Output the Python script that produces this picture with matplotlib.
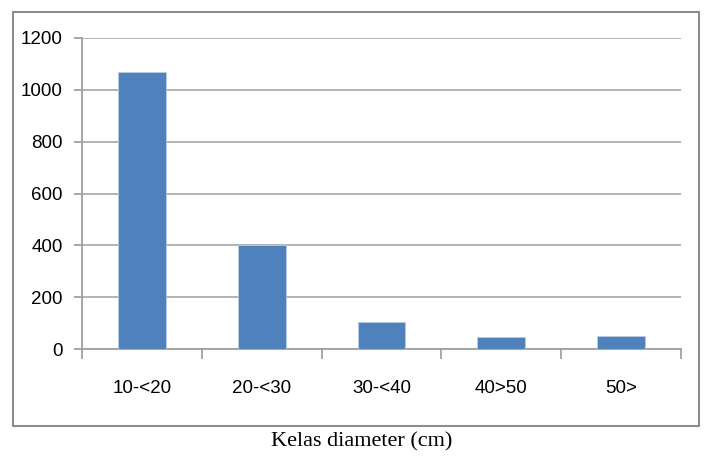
import matplotlib
matplotlib.use("Agg")
import matplotlib.pyplot as plt
from matplotlib.patches import Rectangle
import numpy as np

# data
kelas = ['10-<20', '20-<30', '30-<40', '40>50', '50>']
jumlah = [1068, 400, 103, 46, 51]
yticks = [0, 200, 400, 600, 800, 1000, 1200]

plt.rcParams['font.family'] = ['Liberation Sans', 'DejaVu Sans']

fig = plt.figure(figsize=(7.05, 4.57), dpi=100)
ax = fig.add_axes([82 / 705, 1 - 349 / 457, (681 - 82) / 705, (349 - 38) / 457])

x = np.arange(len(kelas))
ax.bar(x, jumlah, width=0.4, color='#4F81BD', edgecolor='#b9cde5', linewidth=0.6, zorder=3)

ax.set_xlim(-0.5, len(kelas) - 0.5)
ax.set_ylim(0, 1200)
ax.set_yticks(yticks)
ax.set_yticklabels([str(v) for v in yticks], fontsize=13.5)
ax.yaxis.grid(True, color='#adadad', linewidth=1.3, zorder=0)

ax.set_xticks(x)
ax.set_xticklabels(kelas, fontsize=13.5)
ax.tick_params(axis='x', length=0, pad=22)
ax.set_xticks(np.arange(len(kelas) + 1) - 0.5, minor=True)
ax.tick_params(axis='x', which='minor', length=7, color='#a0a0a0', width=1.3)
ax.tick_params(axis='y', length=6, color='#a0a0a0', width=1.3, pad=8)

for side in ['top', 'right']:
    ax.spines[side].set_visible(False)
for side in ['left', 'bottom']:
    ax.spines[side].set_color('#a0a0a0')
    ax.spines[side].set_linewidth(1.3)

# outer chart border
fig.patches.append(Rectangle((13 / 705, 1 - 426 / 457), (699 - 13) / 705, (426 - 12) / 457,
                             transform=fig.transFigure, fill=False, edgecolor='#8c8c8c', linewidth=1.5))

fig.text(362 / 705, 1 - 442 / 457, 'Kelas diameter (cm)', ha='center', va='center',
         fontsize=16, family=['Liberation Serif', 'DejaVu Serif'])

fig.savefig('out.png', dpi=100)
